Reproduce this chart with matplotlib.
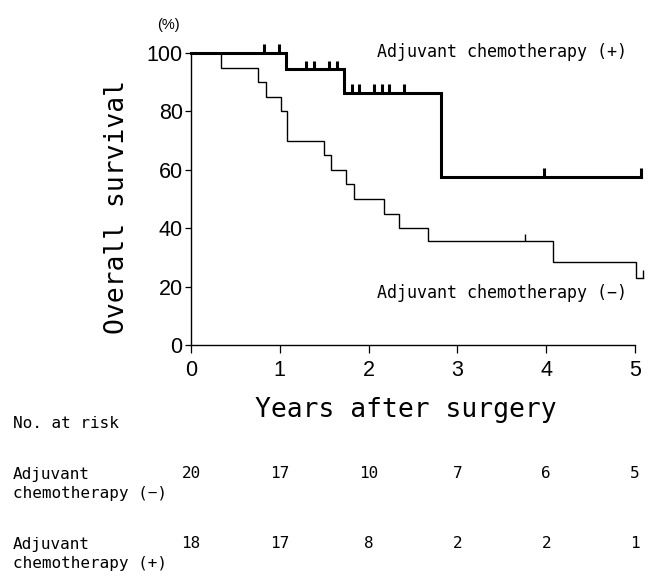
import matplotlib
matplotlib.use('Agg')
from matplotlib import pyplot as plt
from matplotlib.transforms import blended_transform_factory
import numpy as np

# Kaplan-Meier steps (years, % surviving)
no_chemo_times = [0, 0.34, 0.76, 0.84, 1.01, 1.08, 1.50, 1.58, 1.75, 1.83, 2.17, 2.34, 2.67, 4.08, 5.01]
no_chemo_surv = [100, 95, 90, 85, 80, 70, 65, 60, 55, 50, 45, 40, 35.5, 28.5, 23]
no_chemo_end = 5.09
no_chemo_censor = [3.76, 5.09]

chemo_times = [0, 1.07, 1.72, 2.82]
chemo_surv = [100, 94.4, 86.4, 57.6]
chemo_end = 5.07
chemo_censor = [0.82, 0.99, 1.30, 1.39, 1.55, 1.64, 1.81, 1.89, 2.06, 2.15, 2.23, 2.40, 3.97, 5.07]

# number at risk table
risk_years = [0, 1, 2, 3, 4, 5]
risk_no_chemo = [20, 17, 10, 7, 6, 5]
risk_chemo = [18, 17, 8, 2, 2, 1]

narrow = ['Liberation Sans', 'DejaVu Sans']
mono = ['DejaVu Sans Mono']

W, H = 651, 577
fig = plt.figure(figsize=(W / 100, H / 100), dpi=100)
ax = fig.add_axes([191 / W, (H - 345) / H, (635 - 191) / W, (345 - 53) / H])


def px(x, y):
    return x / W, 1 - y / H


def level_at(times, surv, t):
    i = np.searchsorted(times, t, side='right') - 1
    return surv[i]


def km(times, surv, end, censor, lw, tick):
    ax.step(list(times) + [end], list(surv) + [surv[-1]], where='post',
            color='black', lw=lw, clip_on=False, solid_joinstyle='miter')
    lv = [level_at(times, surv, t) for t in censor]
    ax.vlines(censor, lv, np.array(lv) + tick, color='black', lw=lw, clip_on=False)


km(no_chemo_times, no_chemo_surv, no_chemo_end, no_chemo_censor, 1.0, 2.6)
km(chemo_times, chemo_surv, chemo_end, chemo_censor, 2.2, 3.0)

ax.set_xlim(0, 5)
ax.set_ylim(0, 100)
for s in ['top', 'right']:
    ax.spines[s].set_visible(False)
for s in ['left', 'bottom']:
    ax.spines[s].set_linewidth(1.0)

ax.set_xticks(risk_years)
ax.set_yticks([0, 20, 40, 60, 80, 100])
ax.tick_params(axis='y', direction='out', length=4.5, width=0.9, pad=1.5)
ax.tick_params(axis='x', direction='out', length=6, width=0.9, pad=5)
for lab in ax.get_xticklabels() + ax.get_yticklabels():
    lab.set_family(narrow)
    lab.set_fontsize(15.5)

# curve labels, placed by their left edge
lab_x = (377 - 191) / 88.8
ax.text(lab_x, 100.3, 'Adjuvant chemotherapy (+)', family=mono, fontsize=12,
        ha='left', va='center', clip_on=False)
ax.text(lab_x, 17.8, 'Adjuvant chemotherapy (\u2212)', family=mono, fontsize=12,
        ha='left', va='center', clip_on=False)

fig.text(*px(168, 25), '(%)', family=narrow, fontsize=10.5, ha='center', va='center')
fig.text(*px(117, 207), 'Overall survival', family=mono, fontsize=19,
         rotation=90, ha='center', va='center')
fig.text(*px(406, 410), 'Years after surgery', family=mono, fontsize=19,
         ha='center', va='center')

fig.text(*px(13, 424), 'No. at risk', family=mono, fontsize=11.5, ha='left', va='center')
fig.text(*px(13, 484), 'Adjuvant\nchemotherapy (\u2212)', family=mono, fontsize=11.5,
         ha='left', va='center', linespacing=1.3)
fig.text(*px(13, 554), 'Adjuvant\nchemotherapy (+)', family=mono, fontsize=11.5,
         ha='left', va='center', linespacing=1.3)

tr = blended_transform_factory(ax.transData, fig.transFigure)
for yr, a, b in zip(risk_years, risk_no_chemo, risk_chemo):
    ax.text(yr, 1 - 474 / H, str(a), transform=tr, family=mono, fontsize=11.5,
            ha='center', va='center')
    ax.text(yr, 1 - 544 / H, str(b), transform=tr, family=mono, fontsize=11.5,
            ha='center', va='center')

fig.savefig('out.png', dpi=100)
